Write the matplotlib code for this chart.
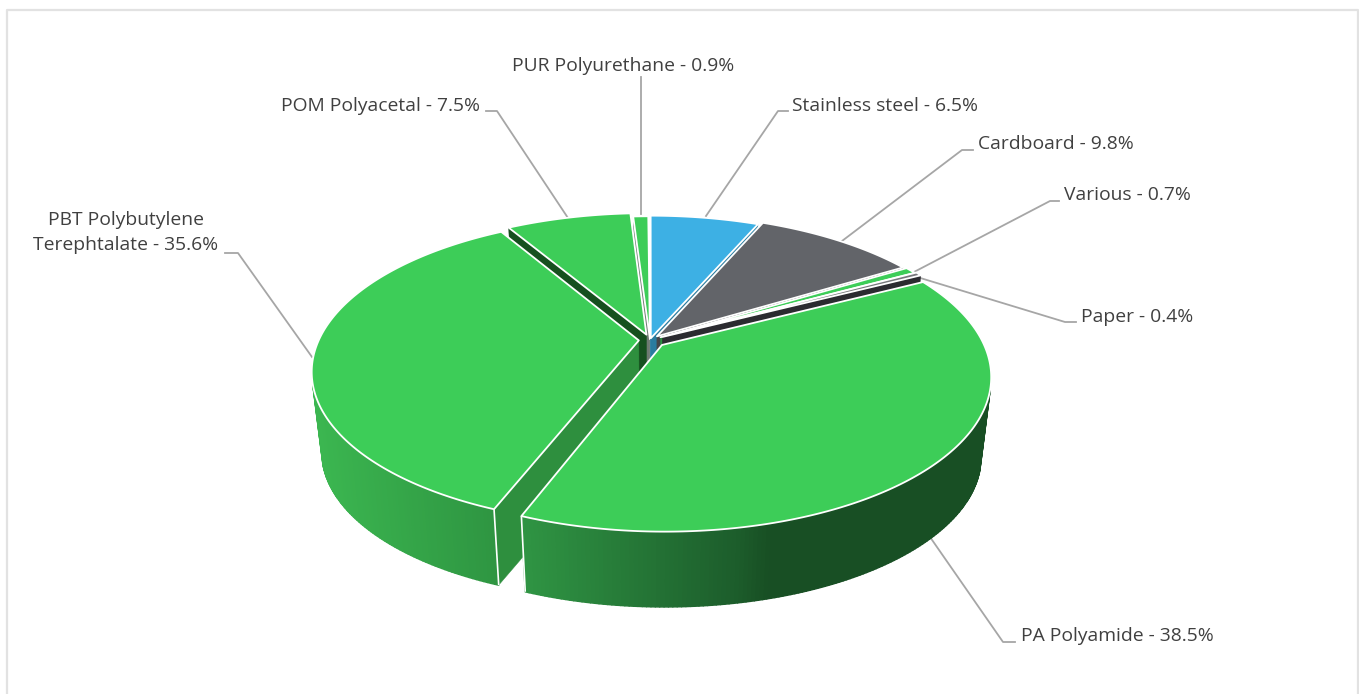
# plot.py - exploded 3D style pie of materials share

import numpy as np
import matplotlib
matplotlib.use("Agg")
import matplotlib.pyplot as plt
from matplotlib.collections import PolyCollection
from matplotlib.patches import Polygon

materials = ["Stainless steel", "Cardboard", "Various", "Paper", "PA Polyamide",
             "PBT Polybutylene\nTerephtalate", "POM Polyacetal", "PUR Polyurethane"]
shares = [6.5, 9.8, 0.7, 0.4, 38.5, 35.6, 7.5, 0.9]

# pie look
explode = [0.012, 0.033, 0.038, 0.044, 0.05, 0.035, 0.038, 0.006]
top_colors = ["#3DB0E4", "#626469", "#3DCD58", "#77787C", "#3DCD58", "#3DCD58", "#3DCD58", "#3DCD58"]
end_wall_colors = ["#2A7CA0", "#45464A", "#2B9040", "#2B2B30", "#2B9040", "#2E8F3E", "#16501F", "#6E7A72"]

# projection of the pie plane, in pixels
CX, CY = 650, 340
RX, RY = 320, 147.5
PERSP = 0.198
DEPTH = 81
BOTTOM_SCALE = 0.97
WALL_START = -0.28  # curved wall shows only nearer than this

# x position -> colour of the curved wall
WALL_X = [315, 500, 525, 740, 770, 995]
WALL_R = [0x3B, 0x2E, 0x2F, 0x1C, 0x18, 0x18]
WALL_G = [0xB6, 0x94, 0x94, 0x5C, 0x4F, 0x4F]
WALL_B = [0x50, 0x41, 0x43, 0x2B, 0x24, 0x24]

# label text anchor (x, y, ha) and leader points
label_pos = [(792, 106, "left"), (978, 144, "left"), (1064, 195, "left"), (1081, 317, "left"),
             (1021, 636, "left"), (126, 232.5, "center"), (281, 106, "left"), (623, 66, "center")]
leaders = [[(788, 111), (778, 111), (706, 216)],
           [(973, 150), (962, 150), (842, 241)],
           [(1059, 201), (1050, 201), (914, 272)],
           [(1076, 322), (1065, 322), (917, 277)],
           [(1015, 642), (1003, 642), (930, 537)],
           [(225, 253), (238, 253), (312, 357)],
           [(486, 111), (497, 111), (568, 218)],
           [(641, 77), (641, 214)]]


def project(wx, wy, bottom=False):
    s = 1 / (1 + PERSP * wy)
    px = RX * wx * s
    py = -RY * wy * s
    if bottom:
        return CX + px * BOTTOM_SCALE, CY + py * BOTTOM_SCALE + DEPTH
    return CX + px, CY + py


def wall_color(x):
    return (np.interp(x, WALL_X, WALL_R) / 255,
            np.interp(x, WALL_X, WALL_G) / 255,
            np.interp(x, WALL_X, WALL_B) / 255)


def flat_wall_visible(tip, outer, inner_pt):
    # the wall hangs down from the edge, it shows when down is outside the slice
    ex, ey = outer[0] - tip[0], outer[1] - tip[1]
    side_down = ex * 1
    side_in = ex * (inner_pt[1] - tip[1]) - ey * (inner_pt[0] - tip[0])
    return side_down * side_in < 0


def draw_slice(ax, start, end, offset, top_color, end_color, zorder):
    # angles are clockwise from the top, in radians
    mid = (start + end) / 2
    ox, oy = offset * np.sin(mid), offset * np.cos(mid)
    t = np.linspace(start, end, max(int((end - start) * 90), 4))
    wx = ox + np.sin(t)
    wy = oy + np.cos(t)
    tx, ty = project(wx, wy)
    bx, by = project(wx, wy, bottom=True)
    tip_t = project(ox, oy)
    tip_b = project(ox, oy, bottom=True)
    inner = project(ox + 0.5 * np.sin(mid), oy + 0.5 * np.cos(mid))

    # flat walls first
    for i in (0, -1):
        if flat_wall_visible(tip_t, (tx[i], ty[i]), inner):
            ax.add_patch(Polygon([tip_t, (tx[i], ty[i]), (bx[i], by[i]), tip_b], closed=True,
                                 facecolor=end_color, edgecolor=end_color, lw=0.3, zorder=zorder))

    # curved wall, small strips so the shading follows x
    quads = []
    cols = []
    for i in range(len(t) - 1):
        if np.cos((t[i] + t[i + 1]) / 2) > WALL_START:
            continue
        quads.append([(tx[i], ty[i]), (tx[i + 1], ty[i + 1]), (bx[i + 1], by[i + 1]), (bx[i], by[i])])
        cols.append(wall_color((tx[i] + tx[i + 1]) / 2))
    if quads:
        ax.add_collection(PolyCollection(quads, facecolors=cols, edgecolors=cols, linewidths=1.1, zorder=zorder))

    # white edges on the front corners
    for i in (0, -1):
        if ty[i] > CY + 100:
            ax.plot([tx[i], bx[i]], [ty[i], by[i]], color="white", lw=1.2, zorder=zorder, solid_capstyle="butt")

    pts = [tip_t] + list(zip(tx, ty))
    ax.add_patch(Polygon(pts, closed=True, facecolor=top_color, edgecolor="white", lw=1.3,
                         joinstyle="round", zorder=zorder))


fig = plt.figure(figsize=(13.59, 6.94), dpi=100)
ax = fig.add_axes([0, 0, 1, 1])
ax.set_xlim(0, 1359)
ax.set_ylim(694, 0)
ax.axis("off")

# chart frame, open at the bottom
ax.plot([6.5, 6.5, 1358, 1358], [694, 9.5, 9.5, 694], color="#E2E2E2", lw=1.6)

for line in leaders:
    xs, ys = zip(*line)
    ax.plot(xs, ys, color="#A6A6A6", lw=1.3, zorder=1)

edges = np.cumsum([0] + shares) / 100 * 2 * np.pi
# back slices first so the big front ones sit on top
order = [7, 6, 0, 1, 2, 3, 5, 4]
for z, k in enumerate(order):
    draw_slice(ax, edges[k], edges[k + 1], explode[k], top_colors[k], end_wall_colors[k], 2 + z)

for name, value, (x, y, ha) in zip(materials, shares, label_pos):
    ax.text(x, y, f"{name} - {value}%", ha=ha, va="center", ma="center", family="Open Sans",
            fontsize=13.9, color="#404040", linespacing=1.55, zorder=20)

fig.savefig("out.png", dpi=100)
